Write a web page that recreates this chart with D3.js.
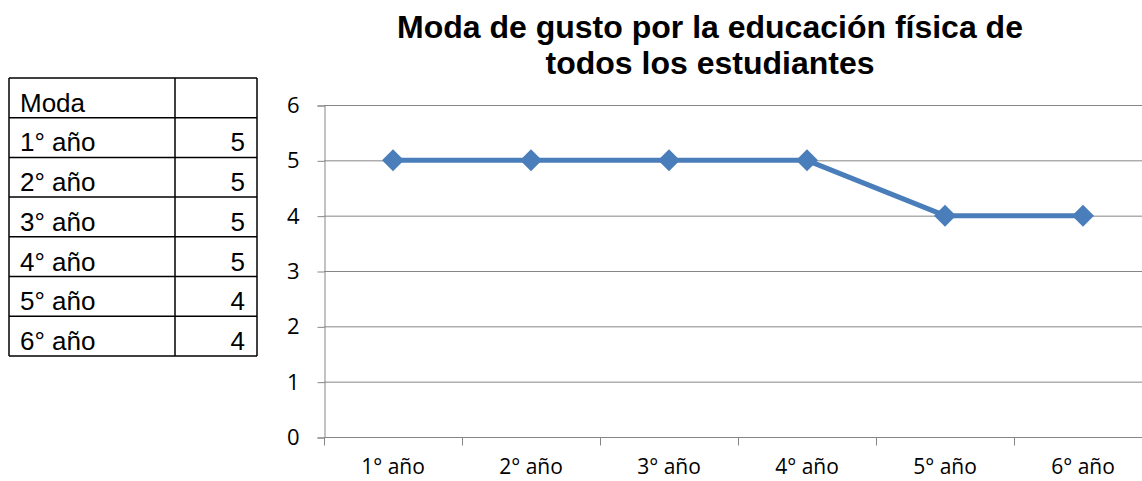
<!DOCTYPE html>
<html>
<head>
<meta charset="utf-8">
<script src="https://cdn.jsdelivr.net/npm/d3@7"></script>
<style>
  body { margin: 0; background: #fff; }
  svg { display: block; }
  .sans { font-family: "Liberation Sans", Arial, sans-serif; }
  .axis text { font-family: "Open Sans", sans-serif; }
</style>
</head>
<body>
<div id="chart"></div>
<script>
// data
var categories = ["1° año", "2° año", "3° año", "4° año", "5° año", "6° año"];
var values = [5, 5, 5, 5, 4, 4];
var yTicks = [0, 1, 2, 3, 4, 5, 6];
var tableHeader = ["Moda", ""];
var titleLines = ["Moda de gusto por la educación física de", "todos los estudiantes"];

var width = 1142, height = 481;

var svg = d3.select("#chart").append("svg")
    .attr("width", width)
    .attr("height", height);

// ---- table on the left
var tbl = { x0: 9, x1: 175, x2: 257, y0: 78, rowH: 39.7 };
var rows = [tableHeader].concat(categories.map(function(c, i) { return [c, values[i]]; }));

var tg = svg.append("g").attr("class", "table sans");
rows.forEach(function(r, i) {
  var y = tbl.y0 + i * tbl.rowH;
  tg.append("text")
      .attr("x", tbl.x0 + 11)
      .attr("y", y + tbl.rowH - 6)
      .attr("font-size", 26)
      .attr("fill", "#000")
      .text(r[0]);
  tg.append("text")
      .attr("x", tbl.x2 - 12)
      .attr("y", y + tbl.rowH - 6)
      .attr("text-anchor", "end")
      .attr("font-size", 26)
      .attr("fill", "#000")
      .text(r[1]);
});
for (var i = 0; i <= rows.length; i++) {
  tg.append("line")
      .attr("x1", tbl.x0).attr("x2", tbl.x2)
      .attr("y1", tbl.y0 + i * tbl.rowH).attr("y2", tbl.y0 + i * tbl.rowH)
      .attr("stroke", "#000").attr("stroke-width", 1.5);
}
[tbl.x0, tbl.x1, tbl.x2].forEach(function(x) {
  tg.append("line")
      .attr("x1", x).attr("x2", x)
      .attr("y1", tbl.y0).attr("y2", tbl.y0 + rows.length * tbl.rowH)
      .attr("stroke", "#000").attr("stroke-width", 1.5);
});

// ---- title
svg.append("text")
    .attr("class", "sans")
    .attr("x", 710)
    .attr("y", 38)
    .attr("text-anchor", "middle")
    .attr("font-weight", "bold")
    .attr("font-size", 32)
    .selectAll("tspan")
    .data(titleLines)
    .enter().append("tspan")
      .attr("x", 710)
      .attr("dy", function(d, i) { return i ? 36 : 0; })
      .text(function(d) { return d; });

// ---- plot
var plot = { left: 324, right: 1152, top: 105, bottom: 437 };

var x = d3.scaleBand()
    .domain(categories)
    .range([plot.left, plot.right]);

var y = d3.scaleLinear()
    .domain([0, 6])
    .range([plot.bottom, plot.top]);

var grid = svg.append("g");
grid.selectAll("line")
    .data(yTicks.filter(function(d) { return d > 0; }))
    .enter().append("line")
      .attr("x1", plot.left).attr("x2", width)
      .attr("y1", function(d) { return y(d) + 0.5; })
      .attr("y2", function(d) { return y(d) + 0.5; })
      .attr("stroke", "#868686").attr("stroke-width", 1);

var yAxis = svg.append("g")
    .attr("class", "axis")
    .attr("transform", "translate(" + (plot.left + 0.5) + ",0.5)")
    .call(d3.axisLeft(y).tickValues(yTicks).tickSize(7).tickPadding(18).tickFormat(d3.format("d")));

var xAxis = svg.append("g")
    .attr("class", "axis")
    .attr("transform", "translate(0," + (plot.bottom + 0.5) + ")")
    .call(d3.axisBottom(x).tickSize(0).tickPadding(22));

// category boundary ticks
xAxis.selectAll(".bound")
    .data(categories)
    .enter().append("line")
      .attr("class", "bound")
      .attr("x1", function(d) { return Math.round(x(d)) + 0.5; })
      .attr("x2", function(d) { return Math.round(x(d)) + 0.5; })
      .attr("y1", 0).attr("y2", 8)
      .attr("stroke", "#868686");

[yAxis, xAxis].forEach(function(a) {
  a.attr("font-family", null).attr("font-size", null);
  a.select(".domain").attr("stroke", "#868686");
  a.selectAll(".tick line").attr("stroke", "#868686");
  a.selectAll("text")
      .attr("fill", "#000");
});
yAxis.selectAll("text").attr("font-size", 22);
xAxis.selectAll("text").attr("font-size", 21);
xAxis.select(".domain").attr("d", "M" + plot.left + ",0H" + width);

// line and markers
var pts = categories.map(function(c, i) { return [x(c) + x.bandwidth() / 2, y(values[i])]; });

svg.append("path")
    .datum(pts)
    .attr("fill", "none")
    .attr("stroke", "#4a7ebb")
    .attr("stroke-width", 5)
    .attr("stroke-linejoin", "round")
    .attr("d", d3.line());

svg.selectAll(".mark")
    .data(pts)
    .enter().append("path")
      .attr("class", "mark")
      .attr("transform", function(d) { return "translate(" + d[0] + "," + d[1] + ")"; })
      .attr("d", "M0,-11L11,0L0,11L-11,0Z")
      .attr("fill", "#4a7ebb");
</script>
</body>
</html>
